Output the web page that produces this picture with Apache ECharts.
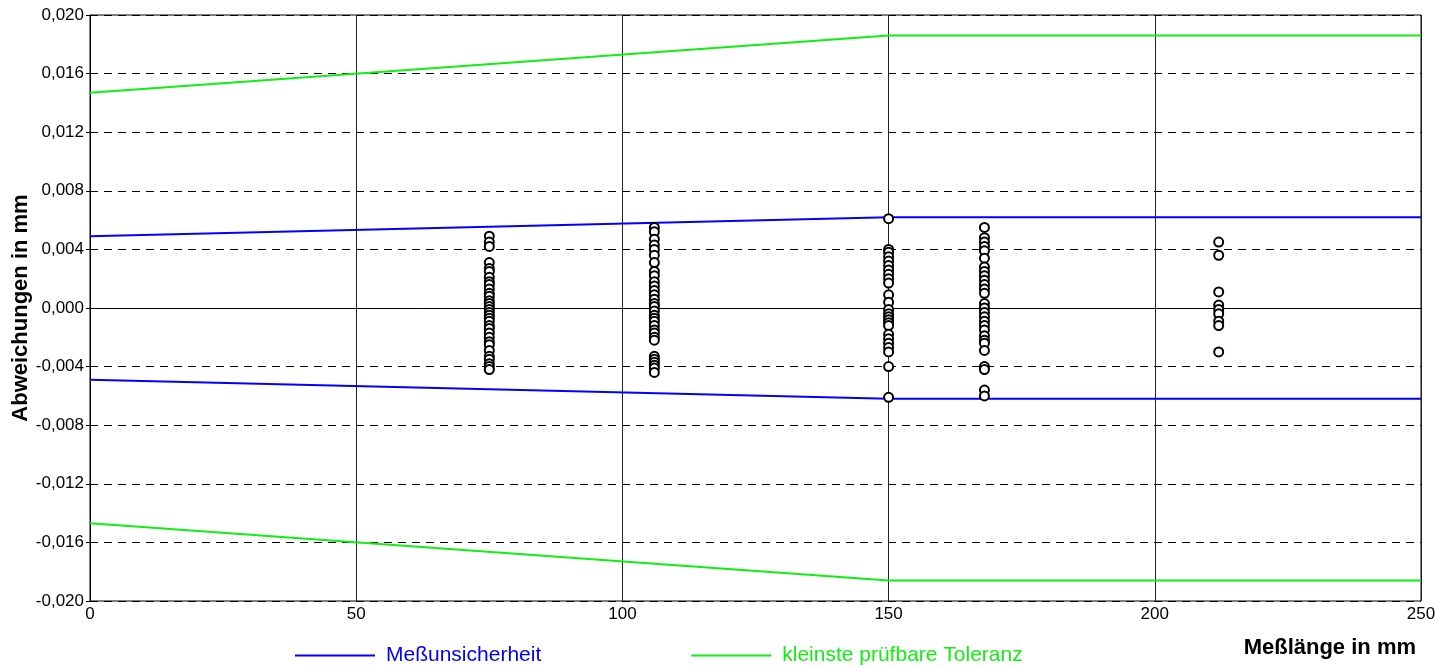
<!DOCTYPE html>
<html>
<head>
<meta charset="utf-8">
<script src="https://cdn.jsdelivr.net/npm/echarts@6/dist/echarts.min.js"></script>
<style>
  html, body { margin: 0; padding: 0; background: #fff; }
  #main { width: 1435px; height: 667px; }
</style>
</head>
<body>
<div id="main"></div>
<script>
// Messlaengen in mm, an denen Abweichungen gemessen wurden
var lengths = [75, 106, 150, 168, 212];

// Abweichungen in mm je Messlaenge
var dev75 = [0.0049, 0.0045, 0.0042, 0.0031, 0.0027, 0.0025, 0.0021, 0.0018, 0.0016, 0.0013,
  0.0010, 0.0008, 0.0005, 0.0003, 0.0001, -0.0001, -0.0003, -0.0005, -0.0007, -0.0009,
  -0.0012, -0.0014, -0.0017, -0.0020, -0.0023, -0.0025, -0.0029, -0.0033, -0.0035, -0.0038,
  -0.0040, -0.0042];
var dev106 = [0.0055, 0.0052, 0.0047, 0.0043, 0.0040, 0.0036, 0.0031, 0.0025, 0.0022, 0.0018,
  0.0015, 0.0012, 0.0009, 0.0006, 0.0003, 0.0001, -0.0002, -0.0005, -0.0007, -0.0009,
  -0.0012, -0.0015, -0.0017, -0.0020, -0.0022, -0.0033, -0.0035, -0.0037, -0.0039, -0.0041, -0.0044];
var dev150 = [0.0061, 0.0040, 0.0038, 0.0035, 0.0032, 0.0029, 0.0026, 0.0023, 0.0020, 0.0017,
  0.0009, 0.0004, -0.0001, -0.0004, -0.0006, -0.0008, -0.0010, -0.0012, -0.0018, -0.0021,
  -0.0024, -0.0027, -0.0030, -0.0040, -0.0061];
var dev168 = [0.0055, 0.0048, 0.0045, 0.0042, 0.0039, 0.0034, 0.0028, 0.0025, 0.0022, 0.0019,
  0.0016, 0.0013, 0.0010, 0.0003, 0.0000, -0.0003, -0.0006, -0.0009, -0.0012, -0.0015,
  -0.0019, -0.0022, -0.0024, -0.0029, -0.0040, -0.0042, -0.0056, -0.0060];
var dev212 = [0.0045, 0.0036, 0.0011, 0.0002, -0.0001, -0.0004, -0.0009, -0.0012, -0.0030];
var deviations = [dev75, dev106, dev150, dev168, dev212];

// Grenzlinien
var lineX = [0, 150, 250];
var uncertainty = [0.0049, 0.0062, 0.0062];
var tolerance = [0.0147, 0.0186, 0.0186];

var xTicks = [0, 50, 100, 150, 200, 250];

var FONT = "'Liberation Sans', Arial, sans-serif";
var BLUE = '#0000ff';
var GREEN = '#11ee11';

function pairs(xs, ys, sign) {
  var out = [];
  for (var i = 0; i < xs.length; i++) out.push([xs[i], sign * ys[i]]);
  return out;
}

var points = [];
for (var i = 0; i < lengths.length; i++) {
  for (var j = 0; j < deviations[i].length; j++) {
    points.push([lengths[i], deviations[i][j]]);
  }
}

function fmtY(v) {
  if (Math.abs(v) < 1e-9) v = 0;
  return v.toFixed(3).replace('.', ',');
}

var chart = echarts.init(document.getElementById('main'), null, { renderer: 'canvas' });

var option = {
  animation: false,
  backgroundColor: '#fff',
  title: {
    text: 'Meßlänge in mm',
    right: 14,
    top: 632,
    textStyle: { fontFamily: FONT, fontSize: 22, fontWeight: 'bold', color: '#000' }
  },
  legend: {
    left: 290,
    top: 640,
    itemWidth: 80,
    itemHeight: 2,
    itemGap: 150,
    icon: 'rect',
    textStyle: { fontFamily: FONT, fontSize: 21, padding: [0, 0, 0, 6] },
    data: [
      { name: 'Meßunsicherheit', textStyle: { color: BLUE } },
      { name: 'kleinste prüfbare Toleranz', textStyle: { color: GREEN } }
    ]
  },
  grid: {
    left: 90,
    right: 14,
    top: 15,
    bottom: 66,
    containLabel: false,
    outerBoundsMode: 'none',
    show: true,
    borderColor: '#000',
    borderWidth: 1
  },
  xAxis: {
    type: 'value',
    min: xTicks[0],
    max: xTicks[xTicks.length - 1],
    interval: 50,
    axisLine: { show: true, lineStyle: { color: '#000', width: 1 } },
    axisTick: { show: false },
    axisLabel: { color: '#000', fontFamily: FONT, fontSize: 17, margin: 5 },
    splitLine: { show: true, lineStyle: { color: '#222', width: 1, type: 'solid' } }
  },
  yAxis: {
    type: 'value',
    min: -0.02,
    max: 0.02,
    interval: 0.004,
    name: 'Abweichungen in mm',
    nameLocation: 'middle',
    nameGap: 58,
    nameMoveOverlap: false,
    nameRotate: 90,
    nameTextStyle: { fontFamily: FONT, fontSize: 22, fontWeight: 'bold', color: '#000' },
    axisLine: { show: true, lineStyle: { color: '#000', width: 1 } },
    axisTick: { show: true, inside: false, length: 4, lineStyle: { color: '#000' } },
    axisLabel: { color: '#000', fontFamily: FONT, fontSize: 17, margin: 6, formatter: fmtY },
    splitLine: { show: true, lineStyle: { color: '#000', width: 1, type: [8, 6] } }
  },
  series: [
    {
      name: 'Meßunsicherheit',
      type: 'line',
      data: pairs(lineX, uncertainty, 1),
      symbol: 'none',
      lineStyle: { color: BLUE, width: 2 },
      itemStyle: { color: BLUE },
      z: 3,
      markLine: {
        silent: true,
        symbol: 'none',
        label: { show: false },
        lineStyle: { color: '#000', width: 1, type: 'solid' },
        data: [{ yAxis: 0 }]
      }
    },
    {
      name: 'Meßunsicherheit',
      type: 'line',
      data: pairs(lineX, uncertainty, -1),
      symbol: 'none',
      lineStyle: { color: BLUE, width: 2 },
      itemStyle: { color: BLUE },
      z: 3
    },
    {
      name: 'kleinste prüfbare Toleranz',
      type: 'line',
      data: pairs(lineX, tolerance, 1),
      symbol: 'none',
      lineStyle: { color: GREEN, width: 2 },
      itemStyle: { color: GREEN },
      z: 3
    },
    {
      name: 'kleinste prüfbare Toleranz',
      type: 'line',
      data: pairs(lineX, tolerance, -1),
      symbol: 'none',
      lineStyle: { color: GREEN, width: 2 },
      itemStyle: { color: GREEN },
      z: 3
    },
    {
      name: 'Messwerte',
      type: 'scatter',
      data: points,
      symbol: 'emptyCircle',
      symbolSize: 9,
      itemStyle: { color: '#000', borderColor: '#000', borderWidth: 2.4, opacity: 1 },
      z: 5
    }
  ]
};

chart.setOption(option);
</script>
</body>
</html>
